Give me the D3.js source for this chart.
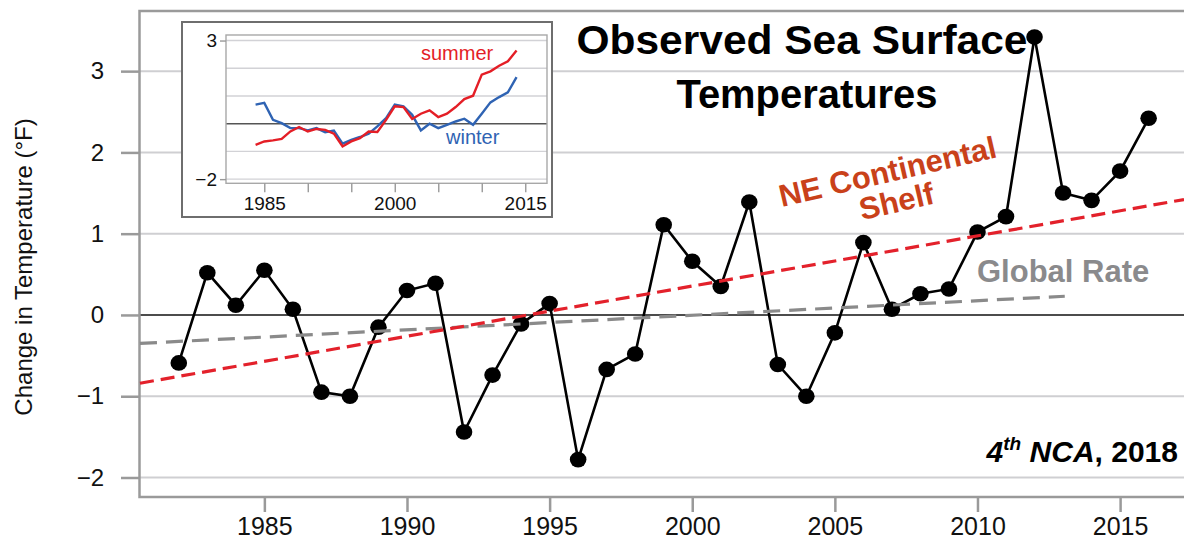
<!DOCTYPE html>
<html>
<head>
<meta charset="utf-8">
<script src="https://cdn.jsdelivr.net/npm/d3@7"></script>
<style>
  html, body { margin: 0; padding: 0; background: #fff; }
  svg { display: block; font-family: "Liberation Sans", Arial, Helvetica, sans-serif; }
</style>
</head>
<body>
<svg id="chart" width="1184" height="542"></svg>
<script>
// ---------- DATA ----------
const years = [1982,1983,1984,1985,1986,1987,1988,1989,1990,1991,1992,1993,1994,1995,1996,1997,1998,1999,2000,2001,2002,2003,2004,2005,2006,2007,2008,2009,2010,2011,2012,2013,2014,2015,2016];
const neShelf = [-0.59,0.52,0.12,0.55,0.07,-0.95,-1.00,-0.15,0.30,0.39,-1.44,-0.74,-0.11,0.14,-1.78,-0.67,-0.48,1.11,0.66,0.35,1.39,-0.61,-1.00,-0.22,0.89,0.07,0.26,0.32,1.02,1.21,3.42,1.50,1.41,1.77,2.42];

const neTrendYears = [1980.64, 2017.24];
const neTrendValues = [-0.84, 1.42];
const globalTrendYears = [1980.64, 2013.06];
const globalTrendValues = [-0.35, 0.23];

const insetYears = [1984,1985,1986,1987,1988,1989,1990,1991,1992,1993,1994,1995,1996,1997,1998,1999,2000,2001,2002,2003,2004,2005,2006,2007,2008,2009,2010,2011,2012,2013,2014];
const summer = [-0.76,-0.64,-0.60,-0.55,-0.28,-0.12,-0.28,-0.19,-0.22,-0.36,-0.82,-0.64,-0.52,-0.28,-0.30,0.14,0.63,0.60,0.17,0.36,0.48,0.24,0.36,0.60,0.89,1.01,1.77,1.89,2.09,2.25,2.64];
const winter = [0.69,0.75,0.14,0.02,-0.16,-0.16,-0.24,-0.16,-0.31,-0.25,-0.72,-0.58,-0.48,-0.36,-0.10,0.20,0.69,0.63,0.32,-0.24,0.00,-0.16,-0.04,0.08,0.18,-0.04,0.36,0.77,0.96,1.13,1.68];

const yTicks = [-2,-1,0,1,2,3];
const xTicks = [1985,1990,1995,2000,2005,2010,2015];
const insetGrid = [-2,-1,0,1,2,3];
const insetYLabels = [-2,3];
const insetXTicks = [1985,1990,1995,2000,2005,2010,2015];
const insetXLabels = [1985,2000,2015];

// ---------- SETUP ----------
const svg = d3.select("#chart");
const W = 1184;
const plotLeft = 140, plotTop = 11, plotBottom = 497;

const x = d3.scaleLinear().domain([1980.64, 2017.24]).range([plotLeft, W]);
const y = d3.scaleLinear().domain([-2.24, 3.74]).range([plotBottom, plotTop]);

const axisGray = "#9a9a9a";
const gridGray = "#cfcfd2";

// gridlines
svg.append("g").selectAll("line").data(yTicks.filter(d => d !== 0)).join("line")
  .attr("x1", plotLeft).attr("x2", W)
  .attr("y1", d => y(d)).attr("y2", d => y(d))
  .attr("stroke", gridGray).attr("stroke-width", 2);

// zero line
svg.append("line")
  .attr("x1", plotLeft).attr("x2", W).attr("y1", y(0)).attr("y2", y(0))
  .attr("stroke", "#111").attr("stroke-width", 1.6);

// frame
svg.append("path")
  .attr("d", `M${W},${plotTop}H${plotLeft-0.5}V${plotBottom}H${W}`)
  .attr("fill", "none").attr("stroke", axisGray).attr("stroke-width", 2.5);

// y axis
const yAxis = svg.append("g").attr("transform", `translate(${plotLeft - 1},0)`)
  .call(d3.axisLeft(y).tickValues(yTicks).tickSize(18).tickPadding(17).tickFormat(d3.format("d")));
yAxis.select(".domain").remove();
yAxis.selectAll(".tick line").attr("stroke", axisGray).attr("stroke-width", 2.5);
yAxis.selectAll(".tick text").attr("font-size", 24).attr("fill", "#111")
  .attr("font-family", "Liberation Sans, Arial, sans-serif");

// x axis
const xAxis = svg.append("g").attr("transform", `translate(0,${plotBottom})`)
  .call(d3.axisBottom(x).tickValues(xTicks).tickSize(15).tickPadding(5).tickFormat(d3.format("d")));
xAxis.select(".domain").remove();
xAxis.selectAll(".tick line").attr("stroke", axisGray).attr("stroke-width", 2.5);
xAxis.selectAll(".tick text").attr("font-size", 25).attr("fill", "#111")
  .attr("font-family", "Liberation Sans, Arial, sans-serif");

// y-axis title
svg.append("text")
  .attr("transform", "translate(32,267) rotate(-90)")
  .attr("text-anchor", "middle")
  .attr("font-size", 24).attr("fill", "#111")
  .text("Change in Temperature (°F)");

// main series
const pts = years.map((yr, i) => [yr, neShelf[i]]);
svg.append("path")
  .datum(pts)
  .attr("d", d3.line().x(d => x(d[0])).y(d => y(d[1])))
  .attr("fill", "none").attr("stroke", "#000").attr("stroke-width", 2.6);
svg.append("g").selectAll("ellipse").data(pts).join("ellipse")
  .attr("cx", d => x(d[0])).attr("cy", d => y(d[1]))
  .attr("rx", 8.3).attr("ry", 7.8).attr("fill", "#000");

// trend lines
const trendLine = d3.line().x(d => x(d[0])).y(d => y(d[1]));
svg.append("path")
  .datum(globalTrendYears.map((yr, i) => [yr, globalTrendValues[i]]))
  .attr("d", trendLine)
  .attr("fill", "none").attr("stroke", "#8a8a8a").attr("stroke-width", 3.2)
  .attr("stroke-dasharray", "17,9");
svg.append("path")
  .datum(neTrendYears.map((yr, i) => [yr, neTrendValues[i]]))
  .attr("d", trendLine)
  .attr("fill", "none").attr("stroke", "#e3212b").attr("stroke-width", 3.2)
  .attr("stroke-dasharray", "14,7");

// annotations
const ne = svg.append("g").attr("transform", "translate(890,182) rotate(-13)")
  .attr("font-weight", "bold").attr("font-size", 31).attr("fill", "#c9411a")
  .attr("text-anchor", "middle");
ne.append("text").attr("x", 0).attr("y", 0).text("NE Continental");
ne.append("text").attr("x", 2).attr("y", 31).text("Shelf");

svg.append("text")
  .attr("x", 977).attr("y", 282)
  .attr("font-weight", "bold").attr("font-size", 31).attr("fill", "#8a8a8c")
  .text("Global Rate");

// title
svg.append("text")
  .attr("x", 802).attr("y", 54).attr("text-anchor", "middle")
  .attr("font-weight", "bold").attr("font-size", 41).attr("fill", "#000")
  .attr("textLength", 451).attr("lengthAdjust", "spacingAndGlyphs")
  .text("Observed Sea Surface");
svg.append("text")
  .attr("x", 807).attr("y", 108).attr("text-anchor", "middle")
  .attr("font-weight", "bold").attr("font-size", 41).attr("fill", "#000")
  .attr("textLength", 261).attr("lengthAdjust", "spacingAndGlyphs")
  .text("Temperatures");

// credit
const cr = svg.append("text")
  .attr("x", 1178).attr("y", 462).attr("text-anchor", "end")
  .attr("font-weight", "bold").attr("font-size", 30).attr("fill", "#000");
cr.append("tspan").attr("font-style", "italic").text("4");
cr.append("tspan").attr("font-style", "italic").attr("font-size", 19).attr("dy", -12).text("th");
cr.append("tspan").attr("font-style", "italic").attr("dy", 12).text(" NCA");
cr.append("tspan").text(", 2018");

// ---------- INSET ----------
const inset = svg.append("g");
inset.append("rect")
  .attr("x", 182).attr("y", 22).attr("width", 370).attr("height", 195)
  .attr("fill", "#fff").attr("stroke", "#6e6e6e").attr("stroke-width", 2);

const ix = d3.scaleLinear().domain([1980.6, 2017.5]).range([226, 547]);
const iy = d3.scaleLinear().domain([-2.15, 3.2]).range([183.3, 35]);

inset.append("g").selectAll("line").data(insetGrid.filter(d => d !== 0)).join("line")
  .attr("x1", 226).attr("x2", 547)
  .attr("y1", d => iy(d)).attr("y2", d => iy(d))
  .attr("stroke", "#d2d2d6").attr("stroke-width", 1.4);
inset.append("line")
  .attr("x1", 226).attr("x2", 547).attr("y1", iy(0)).attr("y2", iy(0))
  .attr("stroke", "#555").attr("stroke-width", 1.4);
inset.append("rect")
  .attr("x", 226).attr("y", 35).attr("width", 321).attr("height", 148.3)
  .attr("fill", "none").attr("stroke", "#a8a8a8").attr("stroke-width", 1.4);

const iyAxis = inset.append("g").attr("transform", "translate(226,0)")
  .call(d3.axisLeft(iy).tickValues(insetYLabels).tickSize(6).tickPadding(3).tickFormat(d3.format("d")));
iyAxis.select(".domain").remove();
iyAxis.selectAll(".tick line").attr("stroke", "#999").attr("stroke-width", 1.4);
iyAxis.selectAll(".tick text").attr("font-size", 19).attr("fill", "#111")
  .attr("font-family", "Liberation Sans, Arial, sans-serif");

const ixAxis = inset.append("g").attr("transform", "translate(0,183.3)")
  .call(d3.axisBottom(ix).tickValues(insetXTicks).tickSize(9).tickPadding(4)
    .tickFormat(d => insetXLabels.includes(d) ? d3.format("d")(d) : ""));
ixAxis.select(".domain").remove();
ixAxis.selectAll(".tick line").attr("stroke", "#999").attr("stroke-width", 1.4);
ixAxis.selectAll(".tick text").attr("font-size", 19).attr("fill", "#111")
  .attr("font-family", "Liberation Sans, Arial, sans-serif");

const iline = d3.line().x(d => ix(d[0])).y(d => iy(d[1]));
inset.append("path")
  .datum(insetYears.map((yr, i) => [yr, winter[i]]))
  .attr("d", iline).attr("fill", "none").attr("stroke", "#2f63b3").attr("stroke-width", 2.4);
inset.append("path")
  .datum(insetYears.map((yr, i) => [yr, summer[i]]))
  .attr("d", iline).attr("fill", "none").attr("stroke", "#e41e26").attr("stroke-width", 2.4);

inset.append("text").attr("x", 421).attr("y", 60)
  .attr("font-size", 20).attr("fill", "#e41e26").text("summer");
inset.append("text").attr("x", 446).attr("y", 144)
  .attr("font-size", 20).attr("fill", "#2f63b3").text("winter");
</script>
</body>
</html>
